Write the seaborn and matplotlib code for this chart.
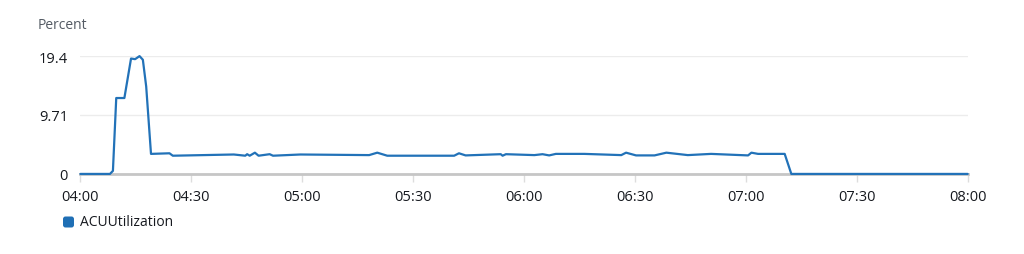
import numpy as np
import pandas as pd
import matplotlib
matplotlib.use("Agg")
import matplotlib.pyplot as plt
import seaborn as sns
from matplotlib.patches import FancyBboxPatch

start = "2024-01-01 04:00"
minutes = [0, 8, 8.8, 9.7, 11.9, 13.7, 14.8, 16, 16.9, 17.8,
           19.1, 24.1, 25, 41.5, 44.6, 45.1, 45.8, 47.2, 48.2, 51.2,
           52.1, 59.5, 78.1, 80.3, 83, 101.1, 102.4, 104.2, 113.7, 114.2,
           115.1, 122.8, 125, 126.8, 128.6, 136.3, 146.3, 147.6, 150.3, 155.3,
           158.5, 164.3, 170.6, 180.6, 181.5, 183.3, 190.5, 192.3, 240]
acu = [0, 0, 0.5, 12.5, 12.5, 19.0, 18.9, 19.4, 18.8, 14.4,
       3.3, 3.4, 3.0, 3.2, 3.0, 3.25, 3.0, 3.5, 3.0, 3.25,
       3.0, 3.2, 3.1, 3.5, 3.0, 3.0, 3.4, 3.05, 3.25, 3.0,
       3.25, 3.1, 3.25, 3.05, 3.3, 3.3, 3.1, 3.5, 3.05, 3.05,
       3.5, 3.1, 3.3, 3.05, 3.5, 3.3, 3.3, 0, 0]
y_ticks = [0, 9.71, 19.4]
y_tick_labels = ["0", "9.71", "19.4"]
x_tick_labels = ["04:00", "04:30", "05:00", "05:30", "06:00", "06:30", "07:00", "07:30", "08:00"]
series_name = "ACUUtilization"
y_label = "Percent"

sns.set_theme(style="white")
plt.rcParams['font.family'] = ['Open Sans', 'DejaVu Sans']

t0 = pd.Timestamp(start)
df = pd.DataFrame({
    "time": [t0 + pd.Timedelta(minutes=m) for m in minutes],
    "value": acu,
})

color = "#2272b8"
fig = plt.figure(figsize=(10.24, 2.55), dpi=100)
ax = fig.add_axes([0.0785, 0.314, 0.8665, 0.462])
sns.lineplot(data=df, x="time", y="value", ax=ax, color=color, linewidth=1.6,
             zorder=5, clip_on=False)

ax.set_ylim(0, 19.4)
ax.set_yticks(y_ticks)
ax.set_yticklabels(y_tick_labels)
xt = [pd.Timestamp(f"2024-01-01 {s}") for s in x_tick_labels]
ax.set_xticks(xt)
ax.set_xticklabels(x_tick_labels)
ax.set_xlim(xt[0], xt[-1])
ax.set_xlabel("")
ax.set_ylabel("")

for s in ["top", "right", "left"]:
    ax.spines[s].set_visible(False)
ax.spines["bottom"].set_color("#c6c6c6")
ax.spines["bottom"].set_linewidth(2)
ax.spines["bottom"].set_zorder(2)
ax.set_axisbelow(True)
ax.grid(axis="y", color="#ececec", linewidth=1)
ax.grid(axis="x", visible=False)
ax.tick_params(axis="x", length=6, width=1, color="#dddddd", labelsize=10.5, labelcolor="#16191f", pad=5, direction="out", bottom=True)
ax.tick_params(axis="y", length=0, labelsize=10.5, labelcolor="#16191f", pad=9)

fig.text(0.037, 0.9, y_label, fontsize=10, color="#545b64", va="center", ha="left")

leg_ax = fig.add_axes([0, 0, 1, 1], facecolor="none")
leg_ax.set_axis_off()
leg_ax.set_xlim(0, 1024)
leg_ax.set_ylim(255, 0)
leg_ax.add_patch(FancyBboxPatch((63, 217.5), 11, 11, boxstyle="round,pad=0,rounding_size=2.5",
                                facecolor="#1f6fb5", edgecolor="none"))
leg_ax.text(80, 223, series_name, fontsize=10, color="#16191f", va="center", ha="left")

fig.savefig("out.png", dpi=100)
